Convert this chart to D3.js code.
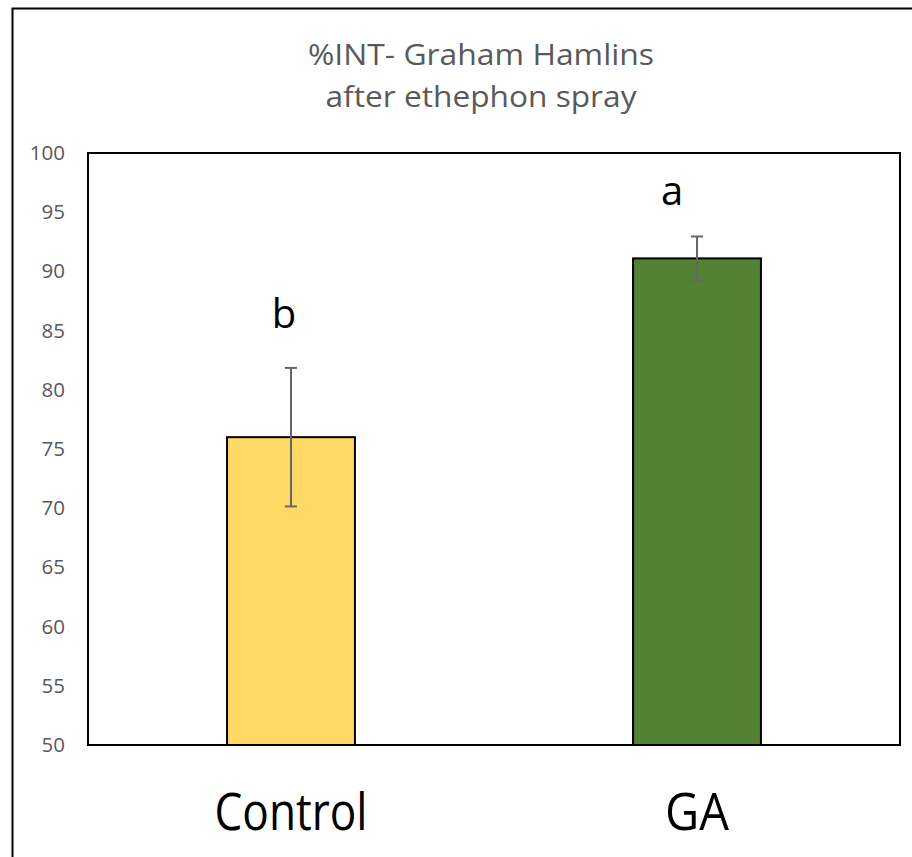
<!DOCTYPE html>
<html>
<head>
<meta charset="utf-8">
<script src="https://cdn.jsdelivr.net/npm/d3@7"></script>
<style>
  body { margin: 0; background: #fff; }
  svg { display: block; }
</style>
</head>
<body>
<script>
// data
var categories = ["Control", "GA"];
var means = [76.0, 91.1];
var errors = [5.85, 1.85];
var letters = ["b", "a"];
var colors = ["#FFD966", "#548235"];
var yTicks = [50, 55, 60, 65, 70, 75, 80, 85, 90, 95, 100];
var titleLines = ["%INT- Graham Hamlins", "after ethephon spray"];

var width = 912, height = 857;
var plot = { left: 88, top: 153, right: 900, bottom: 745 };
var font = "'Open Sans', 'Noto Sans', sans-serif";

var svg = d3.select("body").append("svg")
    .attr("width", width)
    .attr("height", height);

// outer chart frame (right and bottom edges fall outside the window)
svg.append("rect")
    .attr("x", 12.5).attr("y", 8.5)
    .attr("width", 1000).attr("height", 1000)
    .attr("fill", "#fff")
    .attr("stroke", "#000")
    .attr("stroke-width", 2);

var x = d3.scaleBand()
    .domain(categories)
    .range([plot.left, plot.right])
    .paddingInner(0.685)
    .paddingOuter(0.3425);

var y = d3.scaleLinear()
    .domain([50, 100])
    .range([plot.bottom, plot.top]);

// title
var title = svg.append("text")
    .attr("text-anchor", "middle")
    .style("font-family", font)
    .style("font-size", "30px")
    .attr("fill", "#595959");
title.selectAll("tspan")
    .data(titleLines)
    .join("tspan")
    .attr("x", 481)
    .attr("y", (d, i) => i === 0 ? 65 : 107)
    .attr("textLength", (d, i) => i === 0 ? 346 : 311)
    .attr("lengthAdjust", "spacingAndGlyphs")
    .text(d => d);

// y axis labels only
var yAxis = svg.append("g")
    .attr("transform", `translate(${plot.left},0)`)
    .call(d3.axisLeft(y).tickValues(yTicks).tickSize(0).tickPadding(23));
yAxis.select(".domain").remove();
yAxis.selectAll("text")
    .style("font-family", font)
    .style("font-size", "20.5px")
    .attr("fill", "#595959");

// bars
svg.append("g")
    .selectAll("rect")
    .data(categories)
    .join("rect")
    .attr("x", d => x(d))
    .attr("y", (d, i) => y(means[i]))
    .attr("width", x.bandwidth())
    .attr("height", (d, i) => y(50) - y(means[i]))
    .attr("fill", (d, i) => colors[i])
    .attr("stroke", "#000")
    .attr("stroke-width", 2);

// error bars
var eb = svg.append("g")
    .attr("stroke", "#666")
    .attr("stroke-width", 2)
    .selectAll("g")
    .data(categories)
    .join("g")
    .attr("transform", d => `translate(${x(d) + x.bandwidth() / 2},0)`);
eb.append("line")
    .attr("y1", (d, i) => y(means[i] + errors[i]))
    .attr("y2", (d, i) => y(means[i] - errors[i]));
eb.append("line")
    .attr("x1", -6).attr("x2", 6)
    .attr("y1", (d, i) => y(means[i] + errors[i]))
    .attr("y2", (d, i) => y(means[i] + errors[i]));
eb.append("line")
    .attr("x1", -6).attr("x2", 6)
    .attr("y1", (d, i) => y(means[i] - errors[i]))
    .attr("y2", (d, i) => y(means[i] - errors[i]));

// significance letters (hand placed in the original)
var letterDx = [-7, -25];
var letterDy = [40, 31];
svg.append("g")
    .selectAll("text")
    .data(letters)
    .join("text")
    .attr("text-anchor", "middle")
    .attr("x", (d, i) => x(categories[i]) + x.bandwidth() / 2 + letterDx[i])
    .attr("y", (d, i) => y(means[i] + errors[i]) - letterDy[i])
    .style("font-family", font)
    .style("font-size", "40px")
    .attr("fill", "#000")
    .text(d => d);

// plot area border
svg.append("rect")
    .attr("x", plot.left).attr("y", plot.top)
    .attr("width", plot.right - plot.left)
    .attr("height", plot.bottom - plot.top)
    .attr("fill", "none")
    .attr("stroke", "#000")
    .attr("stroke-width", 2);

// category labels
svg.append("g")
    .selectAll("text")
    .data(categories)
    .join("text")
    .attr("text-anchor", "middle")
    .attr("x", d => x(d) + x.bandwidth() / 2)
    .attr("y", 830)
    .attr("textLength", (d, i) => i === 0 ? 153 : 64)
    .attr("lengthAdjust", "spacingAndGlyphs")
    .style("font-family", font)
    .style("font-size", "51px")
    .attr("fill", "#000")
    .text(d => d);
</script>
</body>
</html>
